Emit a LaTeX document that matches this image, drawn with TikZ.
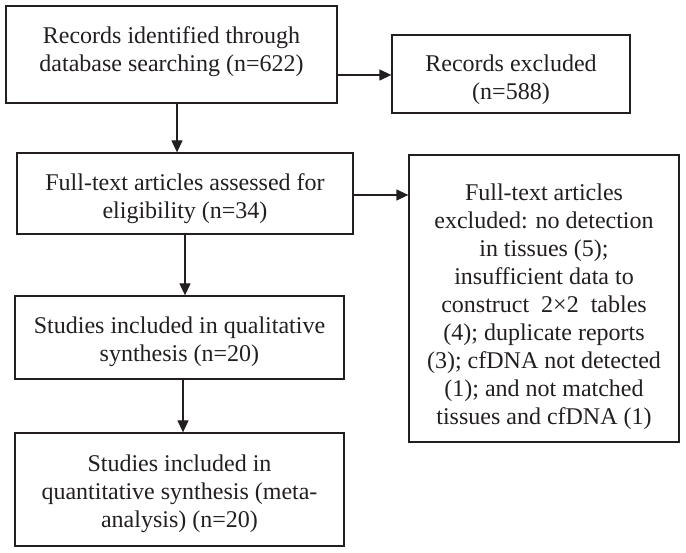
\documentclass[tikz,border=0pt]{standalone}
\usepackage{fontspec}
\setmainfont{Liberation Serif}
\usetikzlibrary{arrows.meta}
\definecolor{ink}{HTML}{231F20}
\begin{document}
\begin{tikzpicture}[x=1pt,y=-1pt,
  boxnode/.style={draw=ink, line width=1.3pt, rectangle, inner sep=0pt},
  txt/.style={text=ink, align=center, font=\fontsize{24}{28}\selectfont, inner sep=0pt},
  arr/.style={draw=ink, line width=1.3pt, -{Triangle[length=12pt,width=11pt]}}]
\useasboundingbox[fill=white] (0,0) rectangle (686,553);
% boxes
\node[boxnode, minimum width=331pt, minimum height=97pt] (b1) at (171.5,54.5) {};
\node[boxnode, minimum width=238pt, minimum height=78pt] (b2) at (511,74) {};
\node[boxnode, minimum width=336pt, minimum height=81pt] (b3) at (185,193.5) {};
\node[boxnode, minimum width=270pt, minimum height=287pt] (b4) at (544,298.5) {};
\node[boxnode, minimum width=329pt, minimum height=83pt] (b5) at (179.5,337.5) {};
\node[boxnode, minimum width=329pt, minimum height=113pt] (b6) at (179.5,489.5) {};
% texts
\node[txt] (t1) at (171.5,52) {Records identified through\\database searching (n=622)};
\node[txt] (t2) at (511,80) {Records excluded\\(n=588)};
\node[txt] (t3) at (185,199) {Full-text articles assessed for\\eligibility (n=34)};
\node[txt] (t4) at (544,307) {Full-text articles\\excluded: no detection\\in tissues (5);\\insufficient data to\\construct~~2×2~~tables\\(4); duplicate reports\\(3); cfDNA not detected\\(1); and not matched\\tissues and cfDNA (1)};
\node[txt] (t5) at (179.5,342) {Studies included in qualitative\\synthesis (n=20)};
\node[txt] (t6) at (179.5,494) {Studies included in\\quantitative synthesis (meta-\\analysis) (n=20)};
% connectors
\draw[arr] ([yshift=-20.5pt]b1.east) -- ([yshift=-20.5pt]b1.east -| b2.west);
\draw[arr] ([xshift=5.5pt]b1.south) -- ([xshift=5.5pt]b1.south |- b3.north);
\draw[arr] ([yshift=-1.5pt]b3.east) -- ([yshift=-1.5pt]b3.east -| b4.west);
\draw[arr] (b3.south) -- (b3.south |- b5.north);
\draw[arr] ([xshift=3.5pt]b5.south) -- ([xshift=3.5pt]b5.south |- b6.north);
\end{tikzpicture}
\end{document}
